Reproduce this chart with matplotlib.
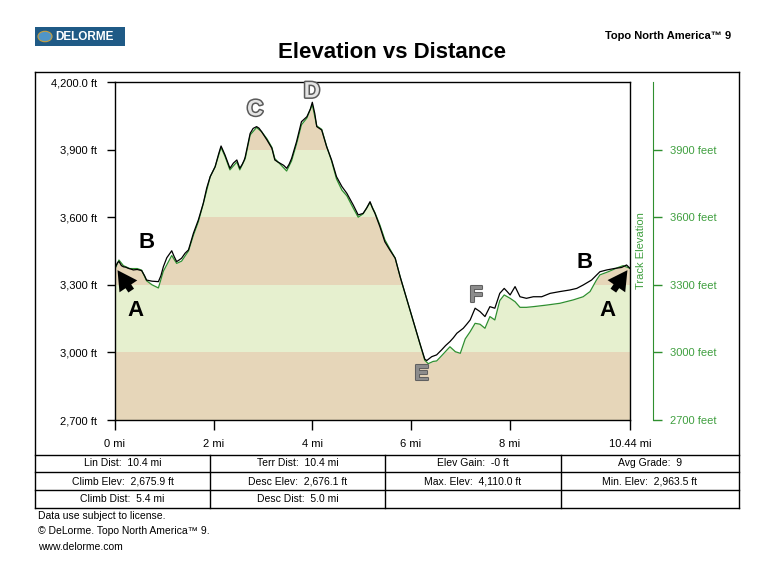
import matplotlib
matplotlib.use('Agg')
import matplotlib.pyplot as plt
from matplotlib.patches import Rectangle, Circle
from matplotlib.lines import Line2D
import matplotlib.patheffects as pe
from matplotlib.ticker import FixedLocator, FixedFormatter

plt.rcParams['font.family'] = ['Liberation Sans', 'DejaVu Sans']

# ---------------- data ----------------
terrain_mi = [0.00, 0.05, 0.08, 0.13, 0.17, 0.22, 0.27, 0.32, 0.37, 0.45, 0.54, 0.60, 0.64, 0.75,
              0.88, 0.93, 0.98, 1.05, 1.15, 1.20, 1.25, 1.30, 1.35, 1.42, 1.49, 1.59, 1.69, 1.79,
              1.86, 1.93, 2.03, 2.10, 2.15, 2.23, 2.33, 2.40, 2.47, 2.53, 2.58, 2.62, 2.64, 2.70,
              2.74, 2.80, 2.87, 2.92, 2.97, 3.08, 3.18, 3.24, 3.30, 3.35, 3.42, 3.48, 3.53, 3.58,
              3.68, 3.78, 3.89, 3.96, 4.00, 4.05, 4.09, 4.19, 4.29, 4.39, 4.49, 4.60, 4.70, 4.83,
              4.93, 5.03, 5.10, 5.17, 5.22, 5.27, 5.37, 5.47, 5.57, 5.68, 5.78, 5.88, 5.98, 6.08,
              6.18, 6.28, 6.32, 6.42, 6.52, 6.62, 6.70, 6.79, 6.86, 6.93, 7.06, 7.13, 7.20, 7.30,
              7.40, 7.50, 7.60, 7.70, 7.80, 7.89, 7.95, 8.01, 8.11, 8.21, 8.34, 8.48, 8.65, 8.82,
              9.02, 9.22, 9.36, 9.49, 9.66, 9.83, 9.97, 10.14, 10.27, 10.37, 10.44]
terrain_ft = [3375, 3398, 3404, 3385, 3380, 3378, 3373, 3370, 3366, 3368, 3363, 3340, 3321, 3316,
              3314, 3340, 3380, 3420, 3451, 3425, 3403, 3410, 3418, 3440, 3455, 3529, 3588, 3662,
              3730, 3780, 3824, 3880, 3916, 3876, 3817, 3840, 3854, 3817, 3835, 3854, 3868, 3930,
              3972, 3994, 4002, 3995, 3980, 3943, 3906, 3854, 3845, 3839, 3830, 3817, 3835, 3861,
              3935, 4024, 4046, 4080, 4110, 4060, 4002, 3987, 3913, 3854, 3780, 3736, 3706, 3654,
              3610, 3617, 3640, 3669, 3640, 3617, 3558, 3491, 3455, 3418, 3336, 3262, 3188, 3114,
              3040, 2970, 2964, 2981, 2989, 3011, 3030, 3048, 3065, 3085, 3107, 3125, 3144, 3196,
              3181, 3159, 3203, 3196, 3262, 3284, 3270, 3255, 3292, 3247, 3240, 3247, 3247, 3262,
              3270, 3277, 3284, 3299, 3321, 3358, 3366, 3373, 3377, 3388, 3373]

track_mi = [0.00, 0.08, 0.17, 0.30, 0.45, 0.54, 0.64, 0.75, 0.88, 0.98, 1.15, 1.25, 1.35, 1.49,
            1.59, 1.69, 1.79, 1.93, 2.03, 2.15, 2.23, 2.33, 2.47, 2.53, 2.64, 2.74, 2.87, 2.97,
            3.08, 3.18, 3.24, 3.35, 3.48, 3.58, 3.68, 3.78, 3.89, 4.00, 4.09, 4.19, 4.29, 4.39,
            4.49, 4.60, 4.70, 4.83, 4.93, 5.03, 5.17, 5.27, 5.37, 5.47, 5.57, 5.68, 5.78, 5.88,
            5.98, 6.08, 6.18, 6.28, 6.35, 6.45, 6.52, 6.62, 6.79, 6.90, 7.00, 7.10, 7.20, 7.30,
            7.40, 7.50, 7.60, 7.70, 7.80, 7.89, 8.01, 8.11, 8.21, 8.34, 8.48, 8.75, 9.02, 9.29,
            9.49, 9.63, 9.76, 9.83, 10.00, 10.20, 10.30, 10.44]
track_ft = [3370, 3410, 3385, 3372, 3372, 3365, 3318, 3300, 3286, 3360, 3430, 3395, 3405, 3450,
            3520, 3580, 3660, 3780, 3824, 3910, 3870, 3810, 3845, 3810, 3860, 3965, 3998, 3980,
            3948, 3910, 3860, 3835, 3805, 3850, 3925, 4010, 4040, 4100, 4005, 3990, 3915, 3850,
            3770, 3720, 3695, 3640, 3600, 3615, 3665, 3620, 3565, 3500, 3460, 3418, 3336, 3262,
            3188, 3114, 3040, 2965, 2950, 2960, 2962, 2985, 3025, 3003, 2996, 3060, 3092, 3129,
            3125, 3107, 3159, 3144, 3230, 3255, 3240, 3225, 3200, 3200, 3203, 3210, 3218, 3233,
            3247, 3270, 3321, 3344, 3358, 3377, 3385, 3373]

band_edges = [2700, 3000, 3300, 3600, 3900, 4200]
band_colors = ['#e6d6b9', '#e6f0cf', '#e6d6b9', '#e6f0cf', '#e6d6b9']

left_ticks = [2700, 3000, 3300, 3600, 3900, 4200]
left_labels = ['2,700 ft', '3,000 ft', '3,300 ft', '3,600 ft', '3,900 ft', '4,200.0 ft']
right_ticks = [2700, 3000, 3300, 3600, 3900]
right_labels = ['2700 feet', '3000 feet', '3300 feet', '3600 feet', '3900 feet']
x_ticks = [0, 2, 4, 6, 8, 10.44]
x_labels = ['0 mi', '2 mi', '4 mi', '6 mi', '8 mi', '10.44 mi']

marker_text = ['A', 'B', 'C', 'D', 'E', 'F', 'B', 'A']
marker_mi = [0.41, 0.63, 2.84, 3.99, 6.22, 7.32, 9.51, 9.99]
marker_ft = [3184, 3486, 4076, 4156, 2900, 3250, 3401, 3184]
arrow_tail_mi = [0.36, 10.07]
arrow_tail_ft = [3264, 3264]
arrow_head_mi = [0.02, 10.42]
arrow_head_ft = [3375, 3375]

table_rows = [
    ['Lin Dist:  10.4 mi', 'Terr Dist:  10.4 mi', 'Elev Gain:  -0 ft', 'Avg Grade:  9'],
    ['Climb Elev:  2,675.9 ft', 'Desc Elev:  2,676.1 ft', 'Max. Elev:  4,110.0 ft', 'Min. Elev:  2,963.5 ft'],
    ['Climb Dist:  5.4 mi', 'Desc Dist:  5.0 mi', '', ''],
]
footer_lines = ['Data use subject to license.',
                '\u00a9 DeLorme. Topo North America\u2122 9.',
                'www.delorme.com']

# ---------------- figure ----------------
W, H = 768, 572
fig = plt.figure(figsize=(7.68, 5.72), dpi=100)
fig.patch.set_facecolor('white')


def fx(x):
    return x / W


def fy(y):
    return 1 - y / H


AX_L, AX_R, AX_T, AX_B = 115, 630, 82, 420
ax = fig.add_axes([fx(AX_L), fy(AX_B), fx(AX_R) - fx(AX_L), fy(AX_T) - fy(AX_B)])
ax.set_xlim(0, 10.44)
ax.set_ylim(2700, 4200)

for i in range(len(band_colors)):
    ax.axhspan(band_edges[i], band_edges[i + 1], color=band_colors[i], lw=0, zorder=1)
ax.fill_between(track_mi, track_ft, 4200, color='white', lw=0, zorder=1.5)

ax.plot(track_mi, track_ft, color='#2f8f2f', lw=0.9, zorder=3)
ax.plot(terrain_mi, terrain_ft, color='black', lw=0.9, zorder=4)

for s in ax.spines.values():
    s.set_color('black')
    s.set_linewidth(1.0)
    s.set_zorder(5)

ax.yaxis.set_major_locator(FixedLocator(left_ticks))
ax.yaxis.set_major_formatter(FixedFormatter(left_labels))
ax.xaxis.set_major_locator(FixedLocator(x_ticks))
ax.xaxis.set_major_formatter(FixedFormatter(x_labels))
ax.tick_params(axis='y', direction='out', length=5.8, width=1, pad=7, labelsize=8)
ax.tick_params(axis='x', direction='out', length=7, width=1, pad=7, labelsize=8)

# right axis
ax2 = ax.twinx()
ax2.set_ylim(2700, 4200)
for k in ['left', 'top', 'bottom']:
    ax2.spines[k].set_visible(False)
ax2.spines['right'].set_position(('outward', 23 * 0.72))
ax2.spines['right'].set_color('#2f8f2f')
ax2.yaxis.set_major_locator(FixedLocator(right_ticks))
ax2.yaxis.set_major_formatter(FixedFormatter(right_labels))
ax2.tick_params(axis='y', direction='out', length=6.5, width=1, color='#2f8f2f',
                labelcolor='#3f9f3f', pad=5.5, labelsize=8)
ax.text(1.0 + 11 / 515, 0.5, 'Track Elevation', transform=ax.transAxes, rotation=90,
        ha='center', va='center', fontsize=8, color='#3f9f3f', zorder=6)

# markers
outline_light = [pe.withStroke(linewidth=2.2, foreground='#5a5a5a')]
for t, m, f in zip(marker_text, marker_mi, marker_ft):
    if t in ('A', 'B'):
        ax.text(m, f, t, ha='center', va='center', fontsize=16, fontweight='bold',
                color='black', zorder=7)
    elif t in ('C', 'D'):
        ax.text(m, f, t, ha='center', va='center', fontsize=16, fontweight='bold',
                color='#e4e4e4', path_effects=outline_light, zorder=7)
    else:
        ax.text(m, f, t, ha='center', va='center', fontsize=16, fontweight='bold',
                color='#8c8c8c', path_effects=[pe.withStroke(linewidth=1.5, foreground='#606060')],
                zorder=7)
for tm, tf, hm, hf in zip(arrow_tail_mi, arrow_tail_ft, arrow_head_mi, arrow_head_ft):
    ax.annotate('', xy=(hm, hf), xytext=(tm, tf), zorder=8, annotation_clip=False,
                arrowprops=dict(arrowstyle='simple,head_length=1.0,head_width=1.1,tail_width=0.35',
                                color='black', lw=0, mutation_scale=14))

# header
fig.text(fx(392), fy(52), 'Elevation vs Distance', ha='center', va='center',
         fontsize=16, fontweight='bold')
fig.text(fx(731), fy(36), 'Topo North America\u2122 9', ha='right', va='center',
         fontsize=8, fontweight='bold')
fig.patches.append(Rectangle((fx(35), fy(46)), fx(125) - fx(35), fy(27) - fy(46),
                             transform=fig.transFigure, facecolor='#1f5a86', edgecolor='none'))
fig.patches.append(Circle((fx(45), fy(36.5)), 7 / W, transform=fig.transFigure,
                          facecolor='#4f95c8', edgecolor='#c8a040', lw=0.8))
fig.text(fx(55), fy(37), 'DELORME', ha='left', va='center', fontsize=8.5,
         color='white', fontweight='bold')

# frame and table
FR_L, FR_R, FR_T = 35, 739, 72
row_y = [455, 472, 490, 508]
col_x = [35, 210, 385, 561, 739]


def hline(y, x0, x1):
    fig.lines.append(Line2D([fx(x0), fx(x1)], [fy(y), fy(y)], transform=fig.transFigure,
                            color='black', lw=1))


def vline(x, y0, y1):
    fig.lines.append(Line2D([fx(x), fx(x)], [fy(y0), fy(y1)], transform=fig.transFigure,
                            color='black', lw=1))


hline(FR_T, FR_L, FR_R)
vline(FR_L, FR_T, row_y[-1])
vline(FR_R, FR_T, row_y[-1])
for y in row_y:
    hline(y, col_x[0], col_x[-1])
for x in col_x[1:-1]:
    vline(x, row_y[0], row_y[-1])

for r, row in enumerate(table_rows):
    yc = (row_y[r] + row_y[r + 1]) / 2
    for c, txt in enumerate(row):
        if txt:
            xc = (col_x[c] + col_x[c + 1]) / 2
            fig.text(fx(xc), fy(yc), txt, ha='center', va='center', fontsize=7.5)

for i, line in enumerate(footer_lines):
    fig.text(fx(38), fy(516 + 15.5 * i), line, ha='left', va='center', fontsize=7.5)

fig.savefig('out.png', dpi=100)
